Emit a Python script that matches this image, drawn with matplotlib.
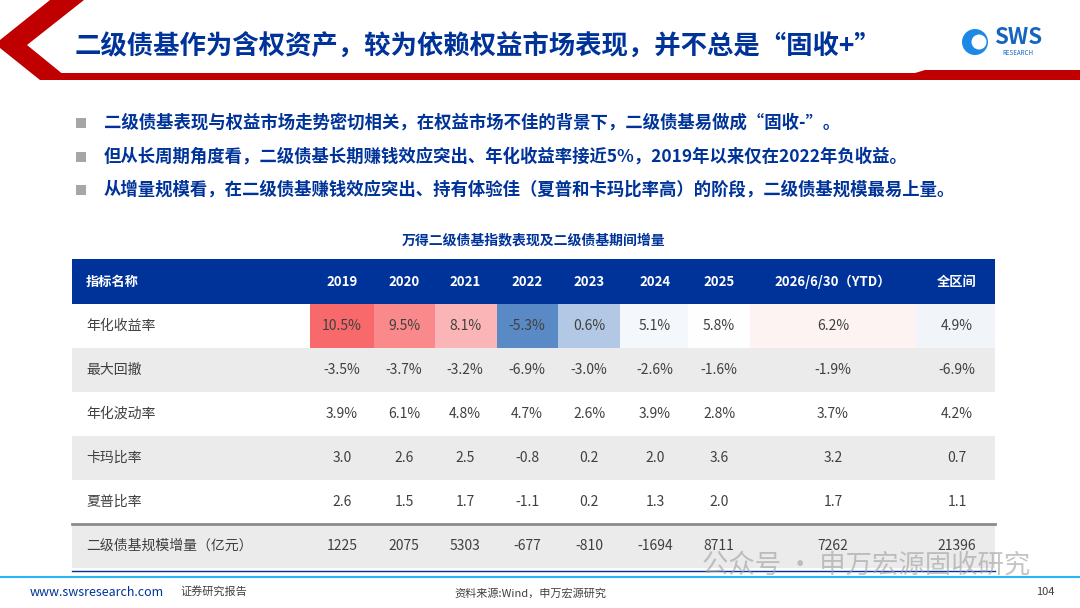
import matplotlib
matplotlib.use("Agg")
import matplotlib.pyplot as plt
from matplotlib.patches import Rectangle, Polygon
from matplotlib.colors import LinearSegmentedColormap, TwoSlopeNorm
import numpy as np

plt.rcParams['font.family'] = ['Noto Sans CJK SC', 'DejaVu Sans']

title = "二级债基作为含权资产，较为依赖权益市场表现，并不总是“固收+”"
bullets = ["二级债基表现与权益市场走势密切相关，在权益市场不佳的背景下，二级债基易做成“固收-”。",
           "但从长周期角度看，二级债基长期赚钱效应突出、年化收益率接近5%，2019年以来仅在2022年负收益。",
           "从增量规模看，在二级债基赚钱效应突出、持有体验佳（夏普和卡玛比率高）的阶段，二级债基规模最易上量。"]
table_title = "万得二级债基指数表现及二级债基期间增量"
columns = ["2019", "2020", "2021", "2022", "2023", "2024", "2025", "2026/6/30（YTD）", "全区间"]
row_names = ["年化收益率", "最大回撤", "年化波动率", "卡玛比率", "夏普比率", "二级债基规模增量（亿元）"]
ret = [10.5, 9.5, 8.1, -5.3, 0.6, 5.1, 5.8, 6.2, 4.9]
mdd = [-3.5, -3.7, -3.2, -6.9, -3.0, -2.6, -1.6, -1.9, -6.9]
vol = [3.9, 6.1, 4.8, 4.7, 2.6, 3.9, 2.8, 3.7, 4.2]
calmar = [3.0, 2.6, 2.5, -0.8, 0.2, 2.0, 3.6, 3.2, 0.7]
sharpe = [2.6, 1.5, 1.7, -1.1, 0.2, 1.3, 2.0, 1.7, 1.1]
growth = [1225, 2075, 5303, -677, -810, -1694, 8711, 7262, 21396]

fig = plt.figure(figsize=(10.8, 6.08), dpi=100)
ax = fig.add_axes([0, 0, 1, 1])
ax.set_xlim(0, 1080); ax.set_ylim(608, 0); ax.axis('off')

RED = "#C00000"; NAVY = "#003399"
# header decoration
ax.add_patch(Polygon([[50, 0], [84, 0], [27, 45], [70, 80], [40, 80], [0, 48], [0, 40]], color=RED, lw=0))
ax.add_patch(Polygon([[60, 80], [1080, 80], [1080, 70], [925, 70], [915, 73], [60, 73]], color=RED, lw=0))
ax.text(75, 46, title, fontsize=19, color=NAVY, fontweight='bold', va='center')
ax.text(1018, 37, "SWS", fontsize=16, color="#1565C0", fontweight='bold', va='center', ha='center')
ax.text(1018, 53, "RESEARCH", fontsize=4.5, color="#1565C0", va='center', ha='center')
ax.add_patch(plt.Circle((975, 42), 13, color="#1E88E5", lw=0))
ax.add_patch(plt.Circle((979, 42), 7.5, color="white", lw=0))

for i, b in enumerate(bullets):
    y = 123 + i * 33.5
    ax.add_patch(Rectangle((76, y - 5), 10, 10, color="#A6A6A6", lw=0))
    ax.text(104, y, b, fontsize=12.5, color=NAVY, fontweight='bold', va='center')

ax.text(533, 240, table_title, fontsize=10, color=NAVY, fontweight='bold', va='center', ha='center')

L, R = 72, 995
bounds = [310, 374, 435, 497, 558, 620, 688, 750, 916, 995]
centers = [342, 404, 465, 527, 589, 655, 719, 833, 957]
hy0, hy1 = 259, 304
rh = 44
ax.add_patch(Rectangle((L, hy0), R - L, hy1 - hy0, color=NAVY, lw=0))
ax.text(86, (hy0 + hy1) / 2, "指标名称", color="white", fontsize=9.5, fontweight='bold', va='center')
for c, x in zip(columns, centers):
    ax.text(x, (hy0 + hy1) / 2, c, color="white", fontsize=9.5, fontweight='bold', va='center', ha='center')

cmap = LinearSegmentedColormap.from_list("cs", ["#5A8AC6", "#FFFFFF", "#F8696B"])
norm = TwoSlopeNorm(vmin=min(ret), vcenter=float(np.median(ret)), vmax=max(ret))

rows = [[f"{v:.1f}%" for v in ret], [f"{v:.1f}%" for v in mdd], [f"{v:.1f}%" for v in vol],
        [f"{v:.1f}" for v in calmar], [f"{v:.1f}" for v in sharpe], [f"{v}" for v in growth]]
for r, (name, vals) in enumerate(zip(row_names, rows)):
    y0 = hy1 + r * rh
    if r % 2 == 1:
        ax.add_patch(Rectangle((L, y0), R - L, rh, color="#EBEBEB", lw=0))
    yc = y0 + rh / 2
    ax.text(86, yc, name, fontsize=10, color="#404040", va='center')
    for j, (t, x) in enumerate(zip(vals, centers)):
        if r == 0:
            ax.add_patch(Rectangle((bounds[j], y0), bounds[j + 1] - bounds[j], rh,
                                   color=cmap(norm(ret[j])), lw=0))
        ax.text(x, yc, t, fontsize=10, color="#404040", va='center', ha='center')
ax.plot([L, R], [hy1 + 5 * rh, hy1 + 5 * rh], color="#8C8C8C", lw=2)
ax.plot([L, R], [hy1 + 6 * rh + 3, hy1 + 6 * rh + 3], color=NAVY, lw=1)

ax.plot([0, 1080], [577, 577], color="#29B6F6", lw=1.5)
ax.text(30, 592, "www.swsresearch.com", fontsize=9, color=NAVY, va='center')
ax.text(180, 591, "证券研究报告", fontsize=8, color="#404040", va='center')
ax.text(530, 593, "资料来源:Wind，申万宏源研究", fontsize=8, color="#404040", va='center', ha='center')
ax.text(1055, 592, "104", fontsize=8, color="#404040", va='center', ha='right')
ax.text(866, 565, "公众号 · 申万宏源固收研究", fontsize=19, color="#9E9E9E", alpha=0.6, va='center', ha='center')

fig.savefig("out.png", dpi=100)
